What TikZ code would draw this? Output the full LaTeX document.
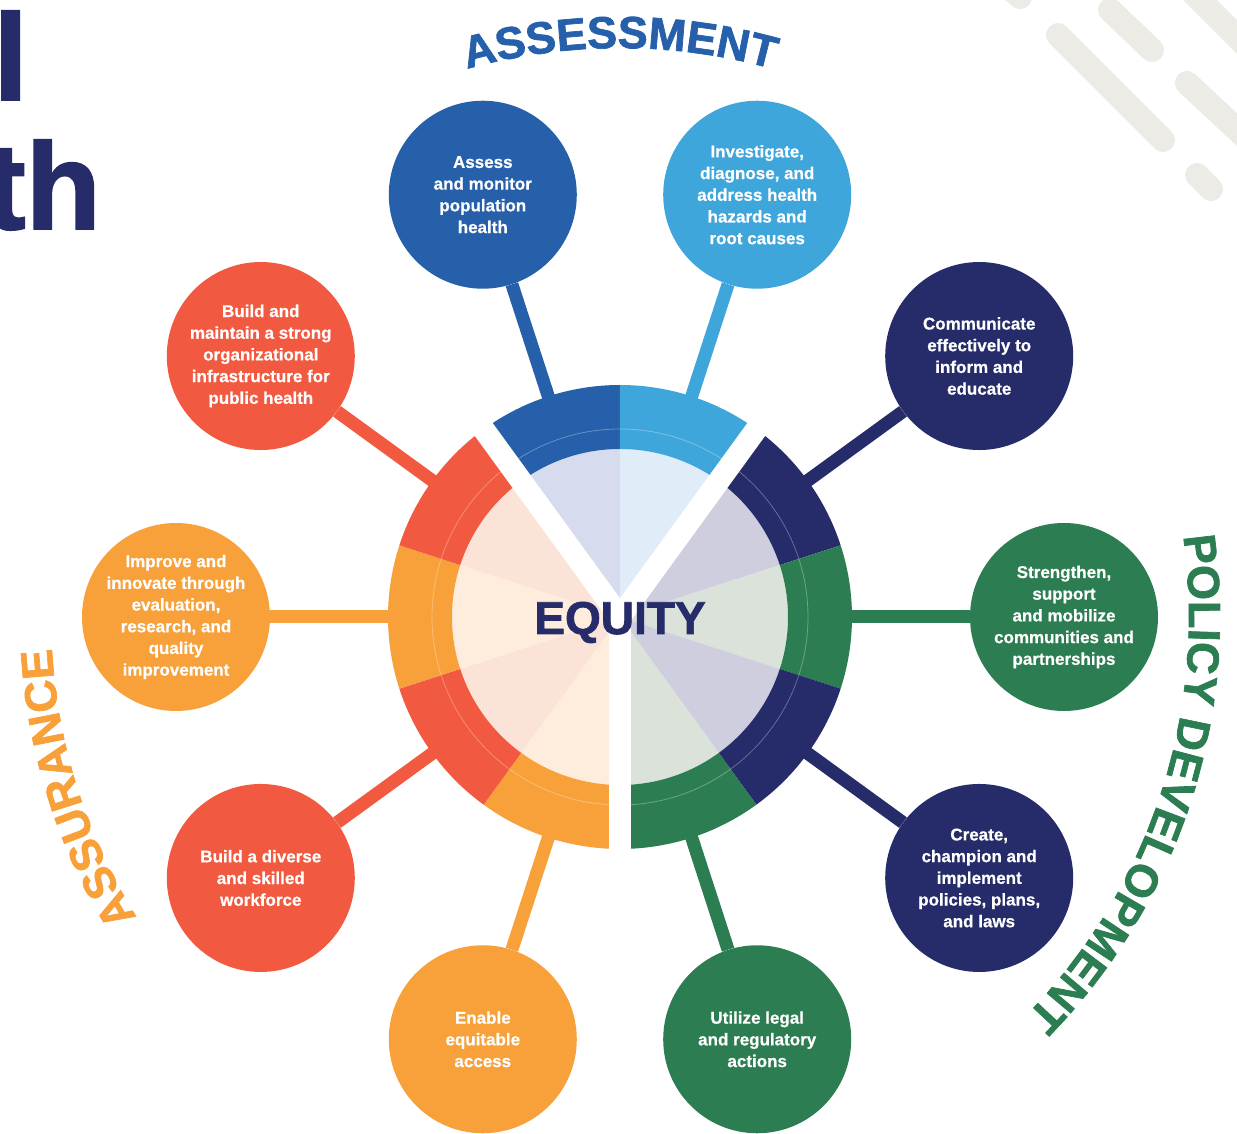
\documentclass[tikz,border=0pt]{standalone}
\usepackage{fontspec}
\setmainfont{Liberation Sans}[BoldFeatures={FakeBold=0.6}]
\newfontfamily\heavyfont{Liberation Sans}[BoldFeatures={FakeBold=1.6}]

\definecolor{assblue}{HTML}{2660AB}
\definecolor{lassblue}{HTML}{D6DCEE}
\definecolor{skyblue}{HTML}{3FA6DC}
\definecolor{lskyblue}{HTML}{E0ECF8}
\definecolor{navy}{HTML}{252C69}
\definecolor{lnavy}{HTML}{CFCEDE}
\definecolor{leafgreen}{HTML}{2C7E52}
\definecolor{lleafgreen}{HTML}{DAE2DA}
\definecolor{amber}{HTML}{F8A13B}
\definecolor{lamber}{HTML}{FEEDDC}
\definecolor{tomato}{HTML}{F15A40}
\definecolor{ltomato}{HTML}{FCE3D7}
\definecolor{stripegrey}{HTML}{ECEBE6}

\newcommand{\titlefont}{\heavyfont\fontsize{45}{45}\selectfont\bfseries}

\begin{document}
\begin{tikzpicture}[x=1pt,y=1pt]
  \tikzset{goal/.style = {circle, minimum size=188pt, inner sep=0pt, text=white, align=center,
      font=\fontsize{17}{21.7}\selectfont\bfseries},
    spoke/.style = {line width=13pt},
    stripe/.style = {draw=stripegrey, line width=24pt, line cap=round},
    titlechar/.style = {anchor=base, inner sep=0pt, font=\titlefont, text=#1}}
  \useasboundingbox (-620,-517) rectangle (617,617);
  \clip (-620,-517) rectangle (617,617);

  % background
  \draw[stripe] (370,647) -- (400,620);
  \draw[stripe] (438,582) -- (543,477);
  \draw[stripe] (490,607) -- (532,567);
  \draw[stripe] (565,632) -- (642,555);
  \draw[stripe] (567,534) -- (642,464);
  \draw[stripe] (577,442) -- (591,428);
  \node[anchor=base east, inner sep=0pt, text=navy, font=\heavyfont\fontsize{123}{123}\selectfont\bfseries] (ttl1) at (-592,517) {l};
  \node[anchor=base east, inner sep=0pt, text=navy, font=\heavyfont\fontsize{123}{123}\selectfont\bfseries] (ttl2) at (-519,388) {th};

  % wheel
  \foreach \a/\c in {108/assblue, 72/skyblue, 36/navy, 0/leafgreen, -36/navy, -72/leafgreen,
      -108/amber, -144/tomato, 180/amber, 144/tomato}{
    \fill[l\c] (0,0) -- (\a-18:168) arc[start angle=\a-18, end angle=\a+18, radius=168] -- cycle;
    \fill[\c] (\a-18:168) -- (\a-18:232) arc[start angle=\a-18, end angle=\a+18, radius=232]
      -- (\a+18:168) arc[start angle=\a+18, end angle=\a-18, radius=168] -- cycle;
  }
  \draw[white, opacity=.3, line width=.8pt] (0,0) circle[radius=188];
  \foreach \g in {126,54,270}
    \draw[white, line width=22pt] (0,0) -- (\g:250);
  \node[anchor=base, inner sep=0pt, text=navy, font=\heavyfont\fontsize{46}{46}\selectfont\bfseries] (equity) at (0,-17) {EQUITY};

  % functions
  \node[goal, fill=assblue] (assess) at (108:444) {Assess\\and monitor\\population\\health};
  \node[goal, fill=skyblue] (investigate) at (72:444) {Investigate,\\diagnose, and\\address health\\hazards and\\root causes};
  \node[goal, fill=navy] (communicate) at (36:444) {Communicate\\effectively to\\inform and\\educate};
  \node[goal, fill=leafgreen] (strengthen) at (0:444) {Strengthen,\\support\\and mobilize\\communities and\\partnerships};
  \node[goal, fill=navy] (create) at (-36:444) {Create,\\champion and\\implement\\policies, plans,\\and laws};
  \node[goal, fill=leafgreen] (utilize) at (-72:444) {Utilize legal\\and regulatory\\actions};
  \node[goal, fill=amber] (enable) at (-108:444) {Enable\\equitable\\access};
  \node[goal, fill=tomato] (workforce) at (-144:444) {Build a diverse\\and skilled\\workforce};
  \node[goal, fill=amber] (improve) at (180:444) {Improve and\\innovate through\\evaluation,\\research, and\\quality\\improvement};
  \node[goal, fill=tomato] (infrastructure) at (144:444) {Build and\\maintain a strong\\organizational\\infrastructure for\\public health};

  \foreach \a/\c/\n in {108/assblue/assess, 72/skyblue/investigate, 36/navy/communicate,
      0/leafgreen/strengthen, -36/navy/create, -72/leafgreen/utilize, -108/amber/enable,
      -144/tomato/workforce, 180/amber/improve, 144/tomato/infrastructure}{
    \coordinate (rim-\n) at (\a:228);
    \draw[spoke, \c] (rim-\n) -- (\n);
  }

  % essential services groups, one letter at a time round the wheel
  \foreach \l/\t [count=\i] in {A/103.97, S/100.83, S/97.81, E/94.78, S/91.76, S/88.74,
      M/85.34, E/81.94, N/78.80, T/75.78}
    \node[titlechar=assblue, rotate=\t-90] (assessment-\i) at (\t:569) {\l};
  \foreach \l/\t [count=\i] in {P/6.65, O/3.38, L/0.23, I/-1.79, C/-4.05, Y/-7.20,
      D/-11.60, E/-14.75, V/-17.77, E/-20.80, L/-23.69, O/-26.84, P/-30.11, M/-33.51,
      E/-36.91, N/-40.05, T/-43.07}
    \node[titlechar=leafgreen, rotate=\t-90] (policy-\i) at (\t:569) {\l};
  \foreach \l/\t [count=\i] in {A/210.21, S/207.07, S/204.05, U/200.90, R/197.63, A/194.36,
      N/191.08, C/187.81, E/184.67}
    \node[titlechar=amber, rotate=\t-90] (assurance-\i) at (\t:569) {\l};
\end{tikzpicture}
\end{document}
